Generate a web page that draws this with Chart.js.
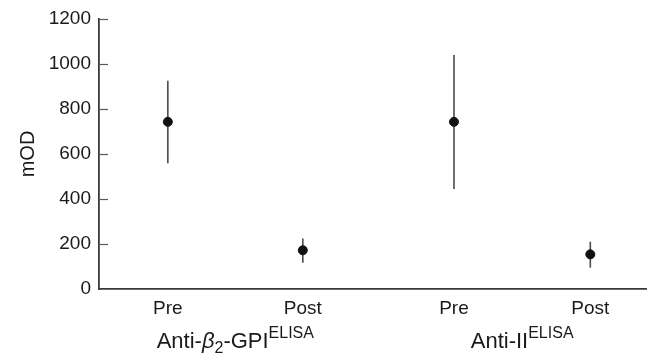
<!DOCTYPE html>
<html>
<head>
<meta charset="utf-8">
<script src="https://cdn.jsdelivr.net/npm/chart.js@4/dist/chart.umd.min.js"></script>
<style>
html,body{margin:0;padding:0;background:#fff;overflow:hidden;}
#wrap{width:647px;height:355px;position:relative;}
</style>
</head>
<body>
<div id="wrap"><canvas id="c"></canvas></div>
<script>
// ---- data ----
const categories = ['Pre', 'Post', 'Pre', 'Post'];
const xPositions = [1, 2, 3.12, 4.13];
const means = [743, 172, 743, 154];
const lowerBounds = [559, 117, 444, 95];
const upperBounds = [926, 225, 1040, 210];
const groupNames = ['Anti-β2-GPI', 'Anti-II'];
const yTickValues = [0, 200, 400, 600, 800, 1000, 1200];
const yTitle = 'mOD';

const FONT = '"Liberation Sans", Arial, Helvetica, sans-serif';
const AXIS_COLOR = '#3a3a3a';

const points = means.map((m, i) => ({ x: xPositions[i], y: m }));

// error bars
const errorBars = {
  id: 'errorBars',
  beforeDatasetsDraw(chart) {
    const { ctx, scales: { x, y } } = chart;
    ctx.save();
    ctx.strokeStyle = '#4a4a4a';
    ctx.lineWidth = 1.6;
    xPositions.forEach((xv, i) => {
      const px = x.getPixelForValue(xv);
      ctx.beginPath();
      ctx.moveTo(px, y.getPixelForValue(lowerBounds[i]));
      ctx.lineTo(px, y.getPixelForValue(upperBounds[i]));
      ctx.stroke();
    });
    ctx.restore();
  }
};

// inward tick marks on y axis
const innerTicks = {
  id: 'innerTicks',
  afterDraw(chart) {
    const { ctx, scales: { y }, chartArea } = chart;
    ctx.save();
    ctx.strokeStyle = '#5a5a5a';
    ctx.lineWidth = 1.2;
    yTickValues.forEach(v => {
      if (v === 0) return;
      const py = Math.round(y.getPixelForValue(v)) + 0.5;
      ctx.beginPath();
      ctx.moveTo(chartArea.left, py);
      ctx.lineTo(chartArea.left + 9, py);
      ctx.stroke();
    });
    ctx.restore();
  }
};

// group labels with italic beta, subscript and superscript
function drawRich(ctx, segs, cx, baseline) {
  let total = 0;
  segs.forEach(s => { ctx.font = s.font; total += ctx.measureText(s.t).width; });
  let xx = cx - total / 2;
  segs.forEach(s => {
    ctx.font = s.font;
    ctx.fillText(s.t, xx, baseline + (s.dy || 0));
    xx += ctx.measureText(s.t).width;
  });
}
const groupLabels = {
  id: 'groupLabels',
  afterDraw(chart) {
    const { ctx, scales: { x } } = chart;
    ctx.save();
    ctx.fillStyle = '#1a1a1a';
    ctx.textBaseline = 'alphabetic';
    ctx.textAlign = 'left';
    const big = '22px ' + FONT;
    const small = '16px ' + FONT;
    const ital = 'italic 22px ' + FONT;
    const c1 = x.getPixelForValue((xPositions[0] + xPositions[1]) / 2);
    const c2 = x.getPixelForValue((xPositions[2] + xPositions[3]) / 2);
    const base = 348;
    // groupNames[0] = 'Anti-β2-GPI'
    drawRich(ctx, [
      { t: 'Anti-', font: big },
      { t: 'β', font: ital },
      { t: '2', font: small, dy: 5 },
      { t: '-GPI', font: big },
      { t: 'ELISA', font: small, dy: -10 }
    ], c1, base);
    drawRich(ctx, [
      { t: groupNames[1], font: big },
      { t: 'ELISA', font: small, dy: -10 }
    ], c2, base);
    ctx.restore();
  }
};

new Chart(document.getElementById('c'), {
  type: 'scatter',
  data: {
    datasets: [{
      data: points,
      backgroundColor: '#111',
      borderColor: '#111',
      pointRadius: 4.5,
      pointHoverRadius: 4.5
    }]
  },
  options: {
    responsive: true,
    maintainAspectRatio: false,
    animation: false,
    events: [],
    layout: { autoPadding: false, padding: { top: 19, right: 0, left: 0, bottom: 0 } },
    plugins: { legend: { display: false }, tooltip: { enabled: false } },
    scales: {
      x: {
        type: 'linear',
        min: 0.49,
        max: 4.55,
        afterBuildTicks(s) { s.ticks = xPositions.map(v => ({ value: v })); },
        afterFit(s) { s.height = 66; s.paddingLeft = 0; s.paddingRight = 0; },
        grid: { display: true, drawOnChartArea: false, drawTicks: false },
        border: { display: true, color: AXIS_COLOR, width: 1.8 },
        ticks: {
          padding: 8,
          color: '#1a1a1a',
          font: { family: FONT, size: 19 },
          maxRotation: 0,
          autoSkip: false,
          callback(v, i) { return categories[i]; }
        }
      },
      y: {
        min: 0,
        max: 1200,
        afterBuildTicks(s) { s.ticks = yTickValues.map(v => ({ value: v })); },
        afterFit(s) { s.width = 99; s.paddingTop = 0; s.paddingBottom = 0; },
        grid: { display: true, drawOnChartArea: false, drawTicks: false },
        border: { display: true, color: AXIS_COLOR, width: 1.8 },
        ticks: {
          padding: 8,
          color: '#1a1a1a',
          font: { family: FONT, size: 19 },
          callback(v) { return String(v); }
        },
        title: {
          display: true,
          text: yTitle,
          color: '#1a1a1a',
          font: { family: FONT, size: 20 },
          padding: { top: 16, bottom: 0 }
        }
      }
    }
  },
  plugins: [errorBars, innerTicks, groupLabels]
});
</script>
</body>
</html>
